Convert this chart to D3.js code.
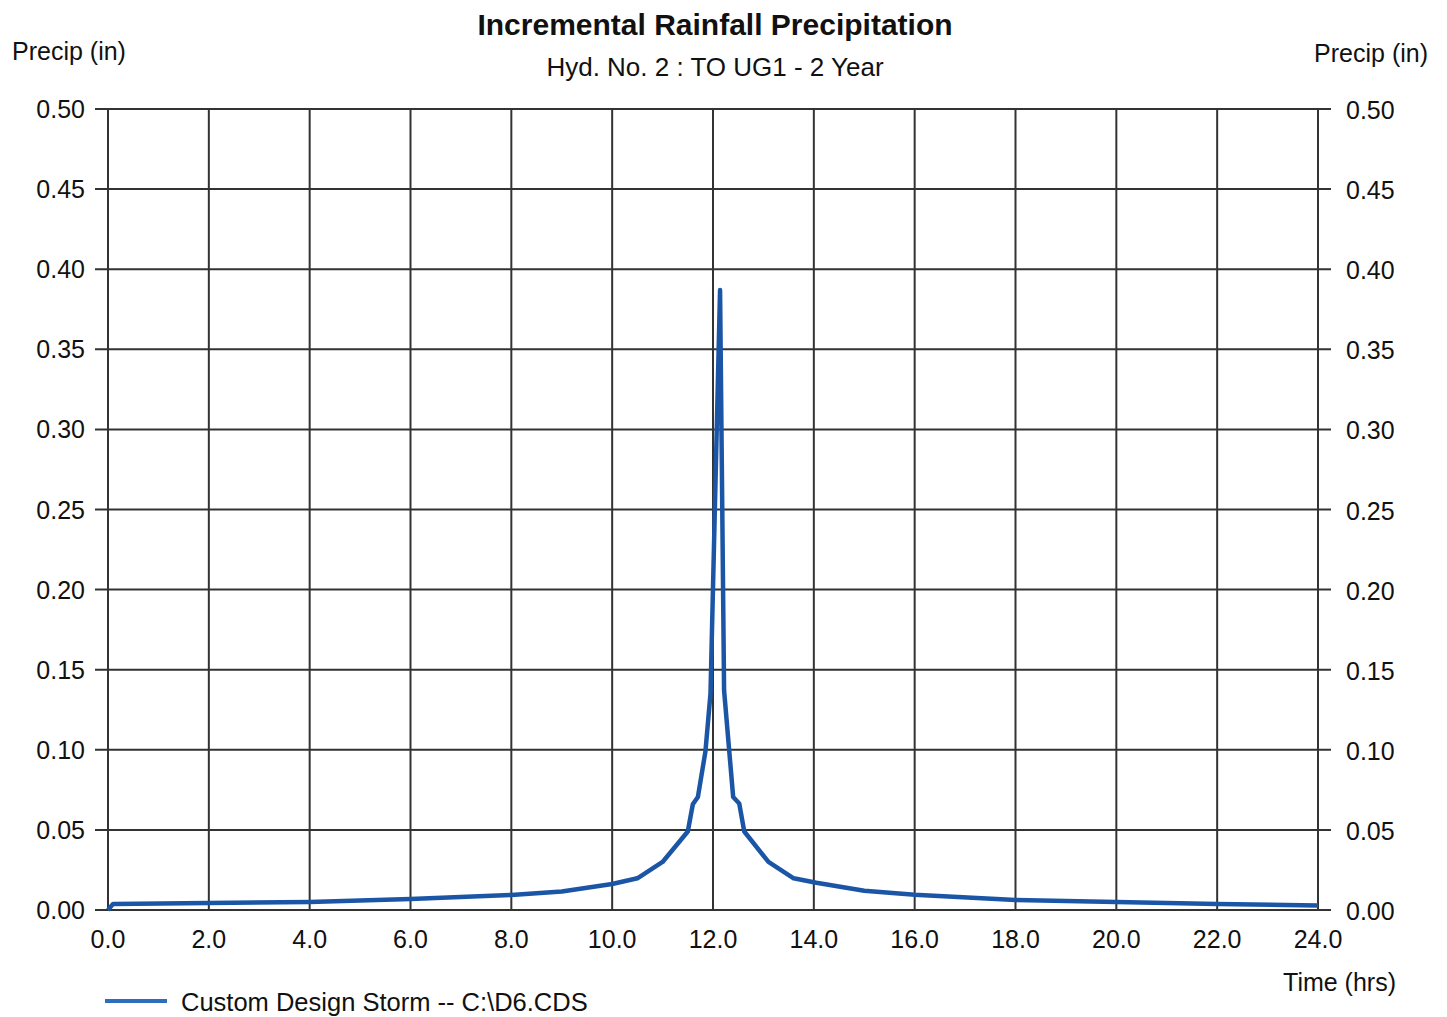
<!DOCTYPE html>
<html>
<head>
<meta charset="utf-8">
<script src="https://cdn.jsdelivr.net/npm/d3@7"></script>
<style>
  body { margin: 0; background: #fff; }
  text { font-family: "Liberation Sans", Arial, sans-serif; fill: #111; }
</style>
</head>
<body>
<div id="chart"></div>
<script>
// data
var times = [0, 0.1, 2, 4, 6, 8, 9, 10, 10.5, 11, 11.5, 11.6, 11.7, 11.85, 11.95, 12.14, 12.22, 12.4, 12.52, 12.62, 13.1, 13.6, 14.05, 15, 16, 18, 20, 22, 24]
var precip = [0, 0.0038, 0.0044, 0.005, 0.0068, 0.0094, 0.0115, 0.0162, 0.0198, 0.030, 0.049, 0.066, 0.0705, 0.099, 0.135, 0.387, 0.137, 0.0705, 0.0665, 0.049, 0.030, 0.0198, 0.017, 0.012, 0.0095, 0.0062, 0.005, 0.0038, 0.0028]
var xTicks = d3.range(0, 24.01, 2)
var yTicks = d3.range(0, 0.501, 0.05)

var width = 1447
var height = 1017
var plotLeft = 108, plotRight = 1318, plotTop = 109, plotBottom = 910

var svg = d3.select("#chart")
  .append("svg")
    .attr("width", width)
    .attr("height", height)

var x = d3.scaleLinear().domain([0, 24]).range([plotLeft, plotRight])
var y = d3.scaleLinear().domain([0, 0.5]).range([plotBottom, plotTop])

// grid
svg.append("g")
  .selectAll("line")
  .data(yTicks)
  .join("line")
    .attr("x1", plotLeft - 13).attr("x2", plotRight + 13)
    .attr("y1", d => y(d)).attr("y2", d => y(d))
    .attr("stroke", "#333").attr("stroke-width", 2)

svg.append("g")
  .selectAll("line")
  .data(xTicks)
  .join("line")
    .attr("x1", d => x(d)).attr("x2", d => x(d))
    .attr("y1", plotTop).attr("y2", plotBottom)
    .attr("stroke", "#333").attr("stroke-width", 2)

// tick labels
svg.append("g")
  .attr("font-size", 25)
  .attr("text-anchor", "end")
  .selectAll("text")
  .data(yTicks)
  .join("text")
    .attr("x", 85)
    .attr("y", d => y(d) + 9)
    .text(d => d.toFixed(2))

svg.append("g")
  .attr("font-size", 25)
  .selectAll("text")
  .data(yTicks)
  .join("text")
    .attr("x", 1346)
    .attr("y", d => y(d) + 10)
    .text(d => d.toFixed(2))

svg.append("g")
  .attr("font-size", 25)
  .attr("text-anchor", "middle")
  .selectAll("text")
  .data(xTicks)
  .join("text")
    .attr("x", d => x(d))
    .attr("y", 948)
    .text(d => d.toFixed(1))

// curve
var line = d3.line()
  .x((d, i) => x(times[i]))
  .y(d => y(d))

svg.append("path")
  .datum(precip)
  .attr("fill", "none")
  .attr("stroke", "#1b56a6")
  .attr("stroke-width", 4.5)
  .attr("stroke-linejoin", "round")
  .attr("d", line)

// titles
svg.append("text")
  .attr("x", 715).attr("y", 35)
  .attr("text-anchor", "middle")
  .attr("font-size", 30).attr("font-weight", "bold")
  .text("Incremental Rainfall Precipitation")

svg.append("text")
  .attr("x", 715).attr("y", 76)
  .attr("text-anchor", "middle")
  .attr("font-size", 26)
  .text("Hyd. No. 2 : TO UG1 - 2 Year")

svg.append("text")
  .attr("x", 12).attr("y", 60)
  .attr("font-size", 25)
  .text("Precip (in)")

svg.append("text")
  .attr("x", 1428).attr("y", 62)
  .attr("text-anchor", "end")
  .attr("font-size", 25)
  .text("Precip (in)")

svg.append("text")
  .attr("x", 1396).attr("y", 991)
  .attr("text-anchor", "end")
  .attr("font-size", 25)
  .text("Time (hrs)")

// legend
svg.append("line")
  .attr("x1", 105).attr("x2", 167)
  .attr("y1", 1001).attr("y2", 1001)
  .attr("stroke", "#2f6dbd").attr("stroke-width", 4)

svg.append("text")
  .attr("x", 181).attr("y", 1011)
  .attr("font-size", 25.5)
  .text("Custom Design Storm -- C:\\D6.CDS")
</script>
</body>
</html>
